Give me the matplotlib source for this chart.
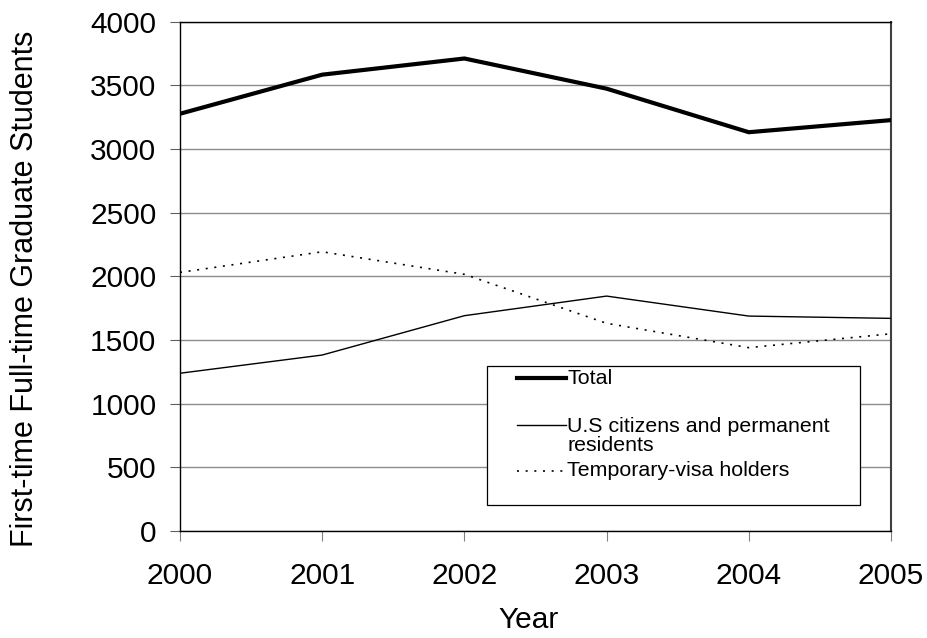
import matplotlib
matplotlib.use('Agg')
from matplotlib import pyplot as plt
from matplotlib.patches import Rectangle

plt.rcParams['font.family'] = ['Liberation Sans', 'DejaVu Sans']

years = [2000, 2001, 2002, 2003, 2004, 2005]
total = [3277, 3584, 3711, 3474, 3132, 3227]
citizens = [1239, 1382, 1691, 1845, 1688, 1670]
temp_visa = [2031, 2193, 2016, 1631, 1440, 1549]
y_ticks = [0, 500, 1000, 1500, 2000, 2500, 3000, 3500, 4000]

fig = plt.figure(figsize=(9.27, 6.38), dpi=100, facecolor='white')
ax = fig.add_axes([180 / 927, 1 - 531 / 638, 711 / 927, 509.3 / 638])

ax.plot(years, total, color='black', lw=3.0, solid_joinstyle='miter', zorder=3)
ax.plot(years, citizens, color='black', lw=1.0, zorder=3)
ax.plot(years, temp_visa, color='black', lw=1.2, linestyle=(0, (1.2, 4.0)), zorder=3)

ax.set_xlim(2000, 2005)
ax.set_ylim(0, 4000)
ax.set_xticks(years)
ax.set_yticks(y_ticks)
ax.yaxis.grid(True, color='#8c8c8c', lw=1.0)
ax.set_axisbelow(True)

ax.tick_params(axis='both', labelsize=21.5, direction='out')
ax.tick_params(axis='x', length=7, color='#808080', pad=15)
ax.tick_params(axis='y', length=7, color='#606060', pad=10)
for side in ['left', 'bottom', 'top']:
    ax.spines[side].set_color('black')
    ax.spines[side].set_linewidth(1.0)
ax.spines['right'].set_color('#404040')
ax.spines['right'].set_linewidth(1.5)

ax.set_xlabel('Year', fontsize=21.5, labelpad=12, x=0.49)
ax.set_ylabel('First-time Full-time Graduate Students', fontsize=22, labelpad=36, y=0.475)

# legend box drawn like the Excel one
ax.add_patch(Rectangle((0.432, 0.051), 0.524, 0.273, transform=ax.transAxes,
                       facecolor='white', edgecolor='black', lw=0.9, zorder=5))
hx = [0.474, 0.543]
ax.plot(hx, [0.300, 0.300], transform=ax.transAxes, color='black', lw=3.0, zorder=6)
ax.plot(hx, [0.208, 0.208], transform=ax.transAxes, color='black', lw=1.0, zorder=6)
ax.plot(hx, [0.118, 0.118], transform=ax.transAxes, color='black', lw=1.2,
        linestyle=(0, (1.2, 4.0)), zorder=6)
ax.text(0.545, 0.300, 'Total', transform=ax.transAxes, fontsize=15.4, va='center', zorder=6)
ax.text(0.545, 0.187, 'U.S citizens and permanent\nresidents', transform=ax.transAxes,
        fontsize=15.4, va='center', linespacing=1.0, zorder=6)
ax.text(0.545, 0.118, 'Temporary-visa holders', transform=ax.transAxes, fontsize=15.4,
        va='center', zorder=6)

fig.savefig('out.png', dpi=100)
